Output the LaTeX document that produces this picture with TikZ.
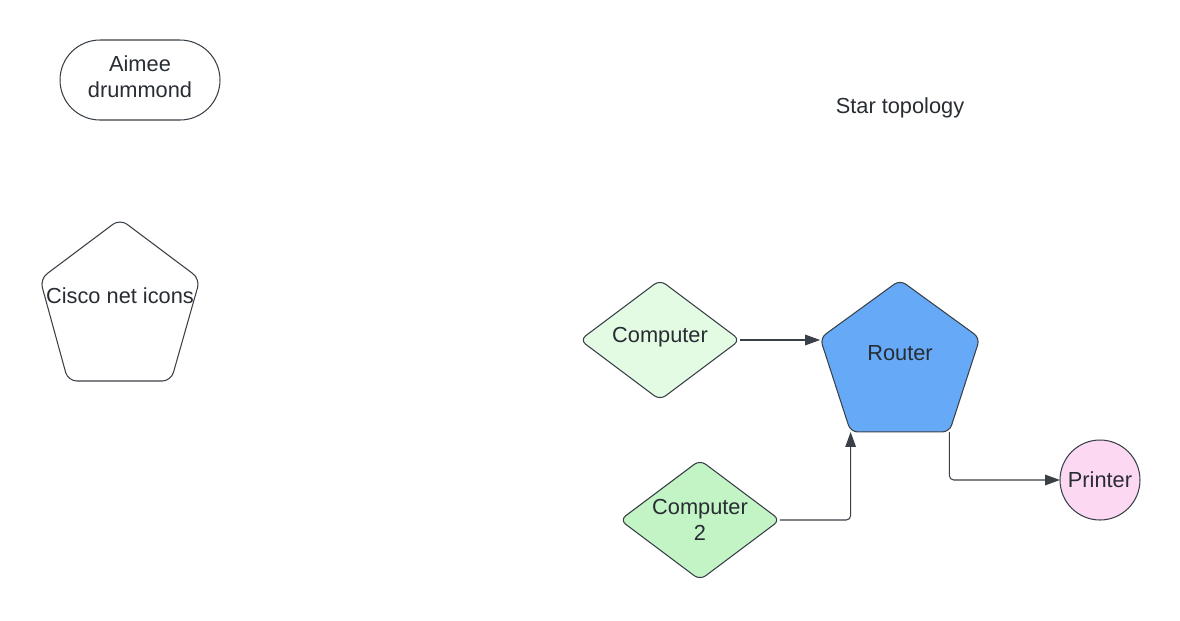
\documentclass[tikz,border=0pt]{standalone}
\usepackage{fontspec}
\setmainfont{Liberation Sans}
\usetikzlibrary{shapes.geometric,arrows.meta}
\definecolor{ink}{HTML}{3A4048}
\definecolor{txt}{HTML}{282C33}
\definecolor{compA}{HTML}{E3FAE3}
\definecolor{compB}{HTML}{C3F4C5}
\definecolor{routerblue}{HTML}{66AAF7}
\definecolor{printerpink}{HTML}{FCD8F2}
\begin{document}
\begin{tikzpicture}[x=0.02cm,y=-0.02cm,
  font=\fontsize{12.4}{14.7}\selectfont, text=txt,
  shapebox/.style={draw=ink, line width=0.6pt, rounded corners=4pt},
  conn/.style={draw=ink, line width=0.6pt, -{Triangle[length=8.5pt,width=6pt]}, rounded corners=2.5pt}]
\useasboundingbox (0,0) rectangle (1180,620);

% Aimee label box
\node[shapebox, rounded corners=0.8cm, minimum width=3.2cm, minimum height=1.6cm, inner sep=0] (aimee) at (140,80) {};
\node[align=center] (aimeetext) at (140,77) {Aimee\\drummond};

% Cisco pentagon
\coordinate (ct) at (120,219);
\coordinate (cl) at (40,279);
\coordinate (cbl) at (68,381);
\coordinate (cbr) at (171,381);
\coordinate (cr) at (200,279);
\draw[shapebox, rounded corners=5pt] (ct) -- (cl) -- (cbl) -- (cbr) -- (cr) -- cycle;
\node (cisco) at (120,296) {Cisco net icons};

% Title
\node (title) at (900,108) {Star topology};

% Router
\node[regular polygon, regular polygon sides=5, minimum size=3.36cm, inner sep=0, outer sep=0,
      fill=routerblue, shapebox] (router) at (900,364) {};
\node (routertext) at (900,353) {Router};

% Computers
\node[diamond, shapebox, fill=compA, minimum width=3.2cm, minimum height=2.4cm, inner sep=0, outer sep=0] (comp1) at (660,340) {};
\node (comp1text) at (660,337) {Computer};
\node[diamond, shapebox, fill=compB, minimum width=3.2cm, minimum height=2.4cm, inner sep=0, outer sep=0] (comp2) at (700,520) {};
\node[align=center] (comp2text) at (700,520) {Computer\\2};

% Printer
\node[circle, shapebox, fill=printerpink, minimum size=1.6cm, inner sep=0, outer sep=0] (printer) at (1100,480) {Printer};

% Connectors
\draw[conn] (comp1.east) -- (comp1.east -| router.corner 2);
\draw[conn] (comp2.east) -| (router.corner 3);
\draw[conn] (router.corner 4) |- (printer.west);
\end{tikzpicture}
\end{document}
